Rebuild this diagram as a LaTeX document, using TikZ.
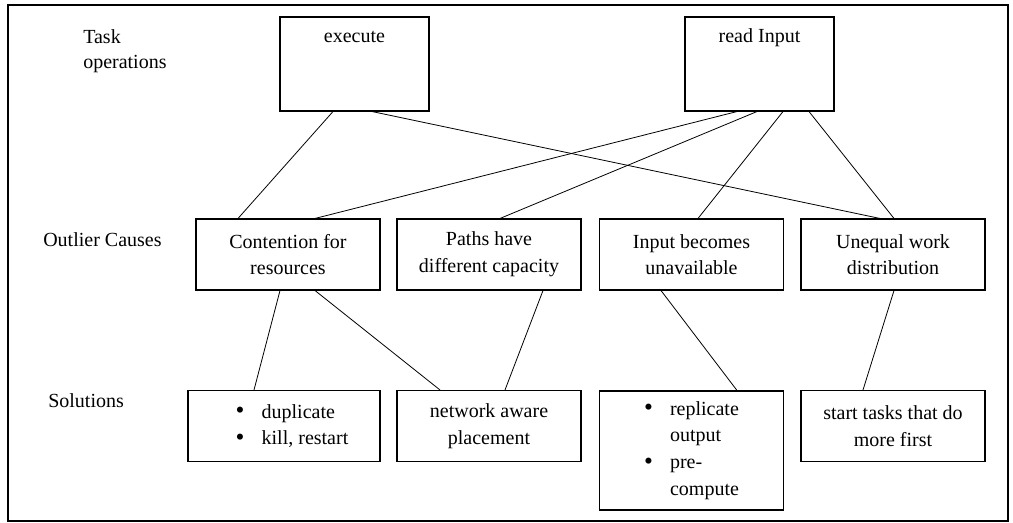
\documentclass[tikz,border=0pt]{standalone}
\usepackage{fontspec}
\setmainfont{Liberation Serif}
\usetikzlibrary{calc}

\newcommand{\bul}{\makebox[19.5pt][l]{\raisebox{-0.5pt}{\fontsize{19}{20}\selectfont\textbullet}}}
\newcommand{\nobul}{\hspace*{19.5pt}}

\tikzset{
  cell/.style={draw, line width=0.8pt, inner sep=0pt, align=center,
    minimum width=138pt, minimum height=53.25pt, font=\fontsize{15}{20}\selectfont},
  opcell/.style={cell, minimum width=111.75pt, minimum height=70.5pt},
  rowlbl/.style={inner sep=0pt, align=left, font=\fontsize{15}{19}\selectfont},
  link/.style={line width=0.6pt},
}

\begin{document}
\begin{tikzpicture}[x=0.75pt,y=-0.75pt]
    \path[use as bounding box] (0,0) rectangle (1013,523);
    \draw[line width=1.2pt] (8,5) rectangle (1008,521);

    % row labels
    \node[rowlbl,anchor=north west] (lblops) at (83,29) {Task\\operations};
    \node[rowlbl,anchor=base west] (lblcause) at (43,247) {Outlier Causes};
    \node[rowlbl,anchor=base west] (lblsol) at (48,408) {Solutions};

    % task operations
    \node[opcell] (exec) at (354.5,64) {};
    \node[rowlbl,anchor=base] (exectxt) at (354.5,43) {execute};
    \node[opcell] (read) at (759.5,64) {};
    \node[rowlbl,anchor=base] (readtxt) at (759.5,43) {read Input};

    % outlier causes
    \node[cell] (cont) at (288,254.5) {Contention for\\resources};
    \node[cell] (paths) at (489,254.5) {Paths have\\different capacity};
    \node[cell] (unav) at (691.5,254.5) {Input becomes\\unavailable};
    \node[cell] (uneq) at (893,254.5) {Unequal work\\distribution};

    % solutions
    \node[cell,align=left,minimum width=144pt] (dup) at (284,426)
      {\hspace*{12pt}\bul duplicate\\\hspace*{12pt}\bul kill, restart};
    \node[cell] (net) at (489,426) {network aware\\placement};
    \node[cell,align=left,minimum height=89.25pt] (repl) at (691.5,450.5)
      {\bul replicate\\\nobul output\\\bul pre-\\\nobul compute};
    \node[cell] (start) at (893,426) {start tasks that do\\more first};

    % links
    \draw[link] ($(exec.south)+(-21.5,0)$) -- ($(cont.north)+(-50,0)$);
    \draw[link] ($(exec.south)+(17.5,0)$) -- ($(uneq.north)+(-13,0)$);
    \draw[link] ($(read.south)+(-22.5,0)$) -- ($(cont.north)+(27,0)$);
    \draw[link] ($(read.south)+(-2.5,0)$) -- ($(paths.north)+(11,0)$);
    \draw[link] ($(read.south)+(23.5,0)$) -- ($(unav.north)+(6.5,0)$);
    \draw[link] ($(read.south)+(49.5,0)$) -- ($(uneq.north)+(1,0)$);
    \draw[link] ($(cont.south)+(-8,0)$) -- ($(dup.north)+(-30,0)$);
    \draw[link] ($(cont.south)+(27,0)$) -- ($(net.north)+(-49,0)$);
    \draw[link] ($(paths.south)+(54,0)$) -- ($(net.north)+(16,0)$);
    \draw[link] ($(unav.south)+(-30.5,0)$) -- ($(repl.north)+(45.5,0)$);
    \draw[link] ($(uneq.south)+(1,0)$) -- ($(start.north)+(-30,0)$);
\end{tikzpicture}
\end{document}
